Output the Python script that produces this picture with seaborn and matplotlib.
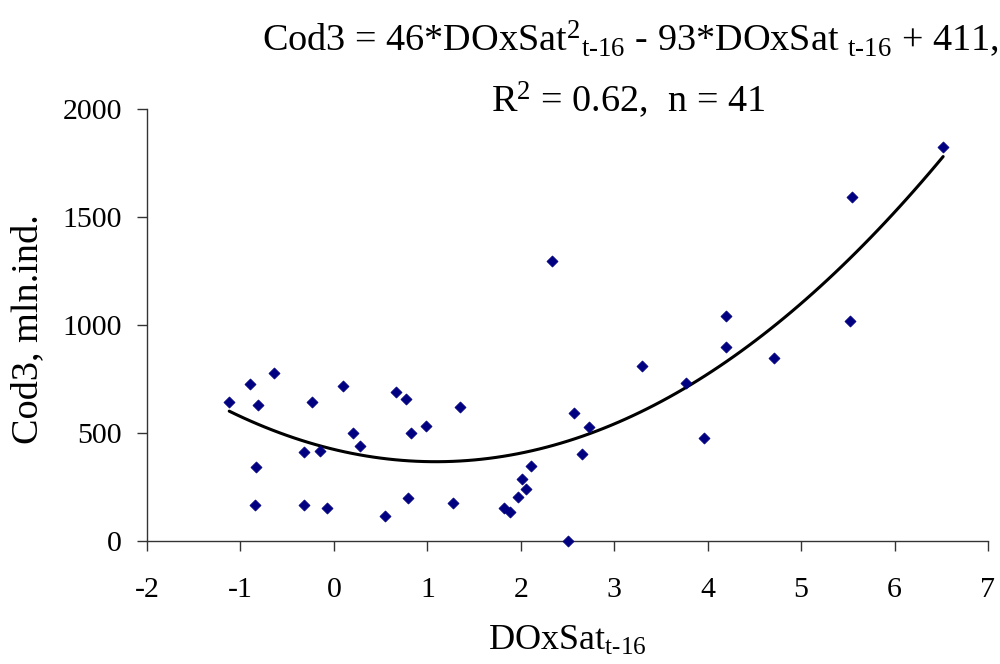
import matplotlib
matplotlib.use("Agg")
import matplotlib.pyplot as plt
import seaborn as sns
import numpy as np
import pandas as pd

# Data
dox = [-1.12, -0.90, -0.81, -0.83, -0.84, -0.64, -0.32, -0.32, -0.23, -0.15,
       -0.07, 0.10, 0.20, 0.28, 0.55, 0.66, 0.77, 0.79, 0.83, 0.99,
       1.28, 1.35, 1.82, 1.89, 1.97, 2.01, 2.06, 2.11, 2.33, 2.51,
       2.57, 2.66, 2.73, 3.30, 3.77, 3.96, 4.20, 4.20, 4.71, 5.52,
       5.54, 6.52]
cod3 = [643, 727, 630, 343, 167, 778, 412, 167, 643, 417,
        153, 718, 500, 440, 116, 690, 657, 199, 500, 532,
        176, 620, 153, 134, 205, 289, 242, 347, 1298, 0,
        591, 403, 529, 810, 733, 477, 1042, 900, 846, 1019,
        1591, 1826]
xticks = [-2, -1, 0, 1, 2, 3, 4, 5, 6, 7]
yticks = [0, 500, 1000, 1500, 2000]

df = pd.DataFrame({"DOxSat": dox, "Cod3": cod3})

sns.set_theme(style="white")
plt.rcParams["font.family"] = ["Liberation Serif", "DejaVu Serif"]
plt.rcParams["mathtext.fontset"] = "custom"
plt.rcParams["mathtext.rm"] = "Liberation Serif"
plt.rcParams["mathtext.it"] = "Liberation Serif:italic"
for k in ["text.color", "axes.labelcolor", "xtick.color", "ytick.color", "axes.edgecolor"]:
    plt.rcParams[k] = "black"

fig = plt.figure(figsize=(10, 6.64), dpi=100)
W, H = 1000, 664
ax = fig.add_axes([147 / W, (H - 541) / H, 841 / W, 432 / H])

sns.regplot(data=df, x="DOxSat", y="Cod3", order=2, ci=None, scatter=False,
            line_kws=dict(color="black", lw=2.2), ax=ax)
sns.scatterplot(data=df, x="DOxSat", y="Cod3", marker="D", s=32,
                color="#000080", edgecolor="#000080", linewidth=0.5, ax=ax,
                zorder=3, clip_on=False)

ax.set_xlim(-2, 7)
ax.set_ylim(0, 2000)
ax.set_xticks(xticks)
ax.set_yticks(yticks)
ax.set_xticklabels([str(t) for t in xticks], fontsize=21.5)
ax.set_yticklabels([str(t) for t in yticks], fontsize=21.5)
for s in ["top", "right"]:
    ax.spines[s].set_visible(False)
for s in ["left", "bottom"]:
    ax.spines[s].set_color("#333333")
    ax.spines[s].set_linewidth(1.0)
ax.tick_params(axis="x", direction="out", length=7, width=1, color="#333333", pad=19)
ax.tick_params(axis="y", direction="out", length=7, width=1, color="#333333", pad=11)
ax.xaxis.set_ticks_position("bottom")
ax.yaxis.set_ticks_position("left")

ax.set_xlabel(r"DOxSat$_{\mathregular{t\text{-}16}}$", fontsize=26)
ax.xaxis.label.set_va("center")
ax.xaxis.set_label_coords(0.5, -(641 - 541) / 432)
ax.set_ylabel("Cod3, mln.ind.", fontsize=27.5)
ax.yaxis.label.set_va("center")
ax.yaxis.set_label_coords((28 - 147) / 841, 0.49)

fig.text(0.630, 1 - 51 / H,
         r"Cod3 = 46*DOxSat$^{\mathregular{2}}$$_{\mathregular{t\text{-}16}}$ - 93*DOxSat $_{\mathregular{t\text{-}16}}$ + 411,",
         ha="center", va="baseline", fontsize=27.5)
fig.text(0.628, 1 - 112 / H, r"R$^{\mathregular{2}}$ = 0.62,  n = 41",
         ha="center", va="baseline", fontsize=27.5)

fig.savefig("out.png", dpi=100)
